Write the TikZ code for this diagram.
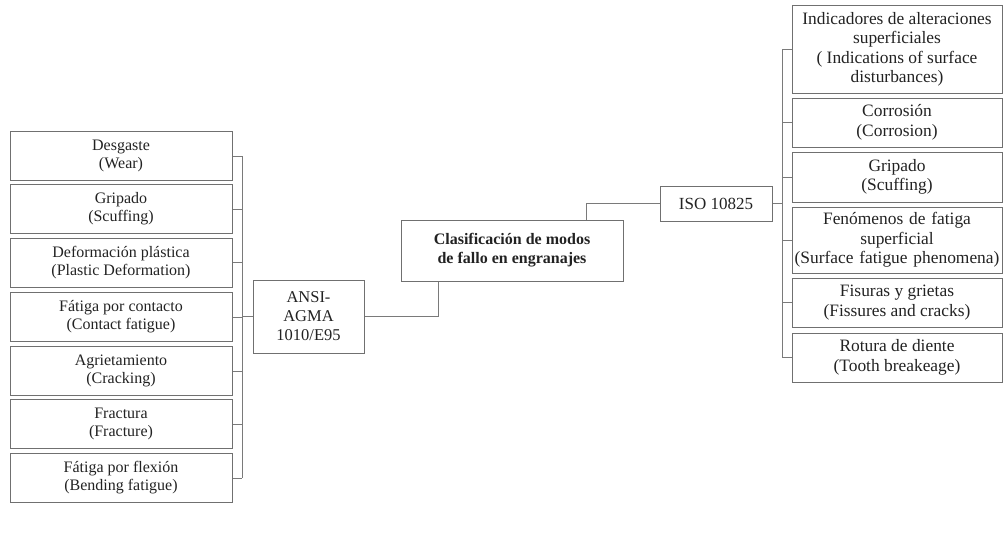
\documentclass[tikz,border=0pt]{standalone}
\usepackage{fontspec}
\setmainfont{Liberation Serif}
\definecolor{boxline}{HTML}{707070}
\definecolor{wire}{HTML}{7A7A7A}
\definecolor{ink}{HTML}{222222}
\begin{document}
\begin{tikzpicture}[x=1pt,y=-1pt,
  box/.style={draw=boxline, line width=1pt, text=ink, align=center,
    inner sep=1pt, font=\fontsize{16}{18}\selectfont},
  rbox/.style={box, minimum width=210pt, font=\fontsize{17.4}{19.5}\selectfont},
  wirel/.style={draw=wire, line width=0.9pt}]
\useasboundingbox (0,0) rectangle (1003,535);

% ANSI/AGMA branch (left column)
\node[box, minimum width=222pt, minimum height=49pt] (l1) at (121,156)   {Desgaste\\(Wear)};
\node[box, minimum width=222pt, minimum height=49pt] (l2) at (121,209)   {Gripado\\(Scuffing)};
\node[box, minimum width=222pt, minimum height=49pt] (l3) at (121,262.5) {Deformación plástica\\(Plastic Deformation)};
\node[box, minimum width=222pt, minimum height=49pt] (l4) at (121,317)   {Fátiga por contacto\\(Contact fatigue)};
\node[box, minimum width=222pt, minimum height=49pt] (l5) at (121,371)   {Agrietamiento\\(Cracking)};
\node[box, minimum width=222pt, minimum height=49pt] (l6) at (121,424)   {Fractura\\(Fracture)};
\node[box, minimum width=222pt, minimum height=49pt] (l7) at (121,478)   {Fátiga por flexión\\(Bending fatigue)};

% standards and root
\node[box, minimum width=111pt, minimum height=73pt, font=\fontsize{16.5}{19}\selectfont] (ansi) at (308.5,316.5) {ANSI-\\AGMA\\1010/E95};
\node[box, minimum width=222pt, minimum height=61pt, font=\fontsize{16}{19}\selectfont\bfseries] (root) at (512,250.5) {Clasificación de modos\\de fallo en engranajes};
\node[box, minimum width=112pt, minimum height=35pt, font=\fontsize{17}{19}\selectfont] (iso) at (716,203.5) {ISO 10825};

% ISO branch (right column)
\node[rbox, minimum height=87pt] (r1) at (897,49.5)  {Indicadores de alteraciones\\superficiales\\( Indications of surface\\disturbances)};
\node[rbox, minimum height=49pt] (r2) at (897,122.5) {Corrosión\\(Corrosion)};
\node[rbox, minimum height=50pt] (r3) at (897,177)   {Gripado\\(Scuffing)};
\node[rbox, minimum height=66pt, text width=208pt] (r4) at (897,240) {Fenómenos de fatiga\\superficial\\\makebox[0pt]{(Surface fatigue phenomena)}};
\node[rbox, minimum height=49pt] (r5) at (897,302.5) {Fisuras y grietas\\(Fissures and cracks)};
\node[rbox, minimum height=49pt] (r6) at (897,357.5) {Rotura de diente\\(Tooth breakeage)};

% bus positions
\coordinate (busL) at (242,0);
\coordinate (busR) at (782,0);
\coordinate (drop) at (438,0);
\coordinate (rise) at (586,0);

% left bus
\foreach \n in {l1,l2,l3,l4,l5,l6,l7}
  \draw[wirel] (\n.east) -- (\n.east -| busL);
\draw[wirel] (l1.east -| busL) -- (l7.east -| busL);
\draw[wirel] (ansi.west) -- (ansi.west -| busL);

% ANSI to root, root to ISO
\draw[wirel] (ansi.east) -| (root.south -| drop);
\draw[wirel] (root.north -| rise) |- (iso.west);

% right bus
\draw[wirel] (iso.east) -- (iso.east -| busR);
\foreach \n in {r1,r2,r3,r4,r5,r6}
  \draw[wirel] (\n.west) -- (\n.west -| busR);
\draw[wirel] (r1.west -| busR) -- (r6.west -| busR);
\end{tikzpicture}
\end{document}
